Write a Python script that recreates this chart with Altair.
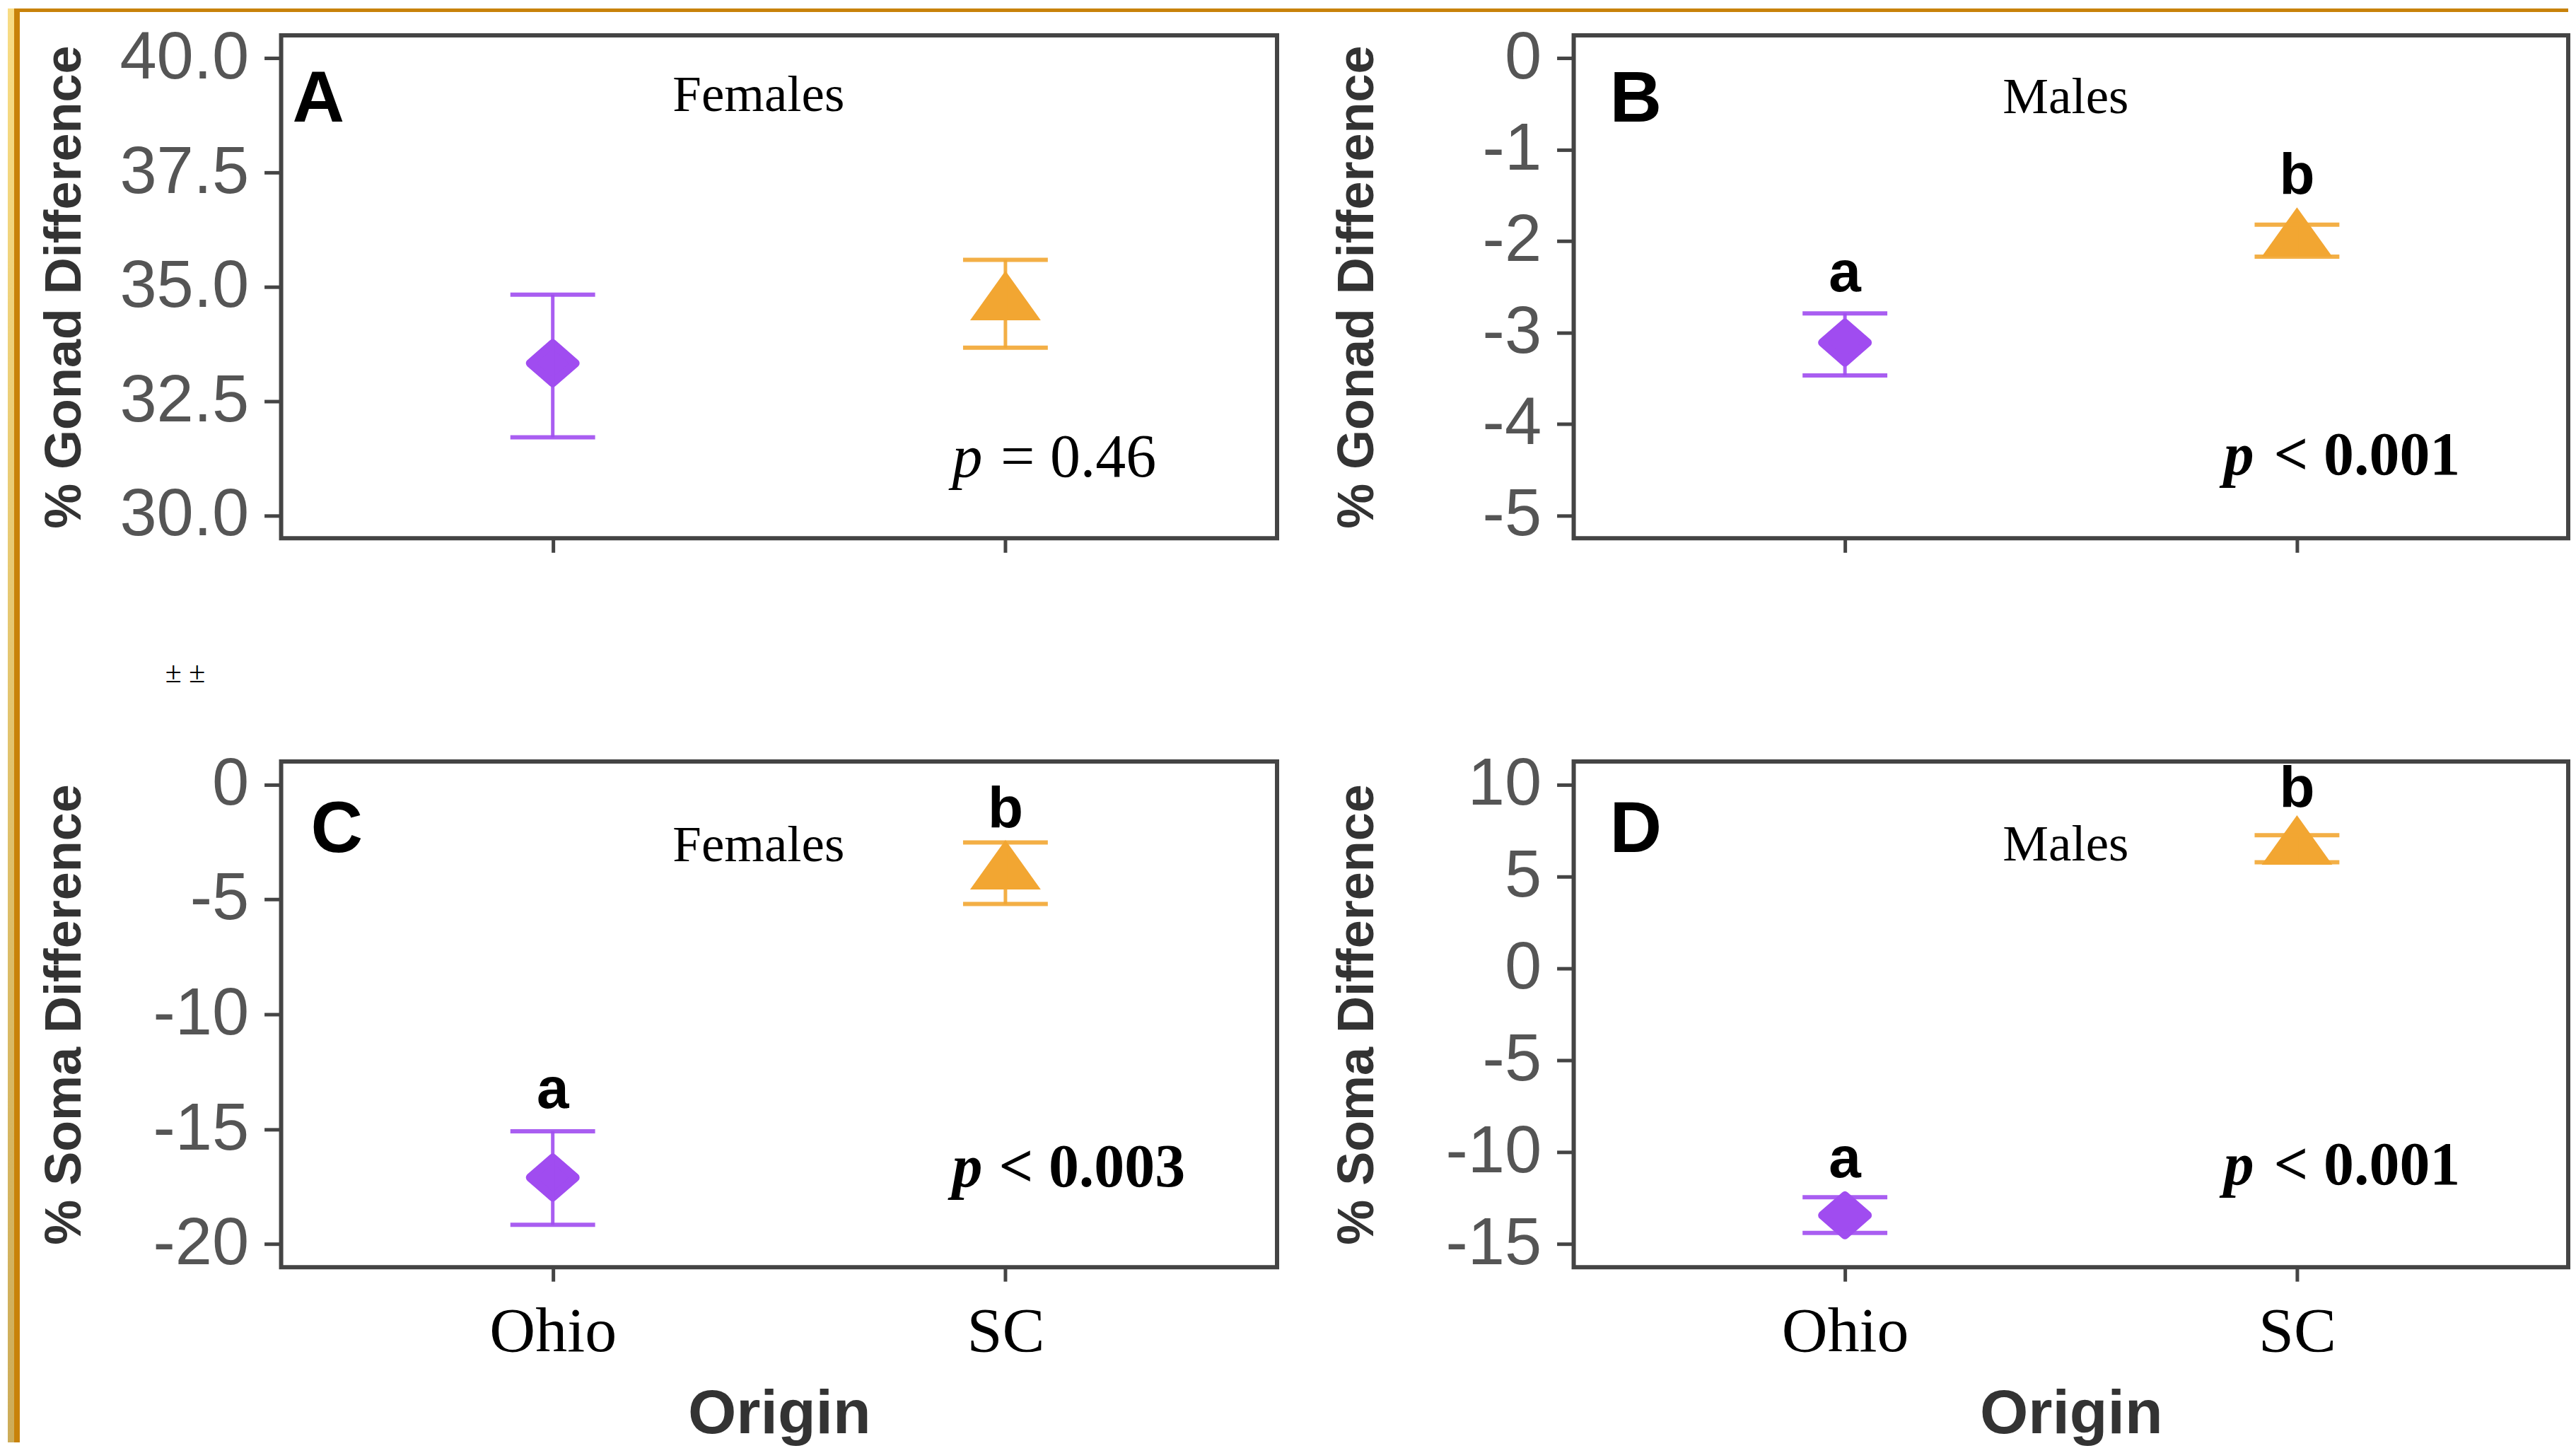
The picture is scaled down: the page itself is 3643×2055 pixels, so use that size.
import altair as alt
import pandas as pd

# ---------------- data ----------------
origins = ["Ohio", "SC"]
origin_pos = [1, 2]

# A: % gonad difference, females
gonad_f_mean = [33.33, 34.63]
gonad_f_lo = [31.71, 33.67]
gonad_f_hi = [34.83, 35.59]
# B: % gonad difference, males
gonad_m_mean = [-3.11, -1.99]
gonad_m_lo = [-3.47, -2.17]
gonad_m_hi = [-2.79, -1.82]
# C: % soma difference, females
soma_f_mean = [-17.10, -3.85]
soma_f_lo = [-19.16, -5.20]
soma_f_hi = [-15.09, -2.52]
# D: % soma difference, males
soma_m_mean = [-13.43, 6.53]
soma_m_lo = [-14.39, 5.77]
soma_m_hi = [-12.45, 7.24]

ticks_a = [30.0, 32.5, 35.0, 37.5, 40.0]
ticks_b = [0, -1, -2, -3, -4, -5]
ticks_c = [0, -5, -10, -15, -20]
ticks_d = [10, 5, 0, -5, -10, -15]
domain_a = [29.5, 40.5]
domain_b = [-5.25, 0.25]
domain_c = [-21.0, 1.0]
domain_d = [-16.25, 11.25]

panel_letters = ["A", "B", "C", "D"]
panel_letter_x = [0.425, 0.4796, 0.4655, 0.4796]
panel_letter_y = [38.615, -0.6924, -2.933, 6.334]

sex_labels = ["Females", "Males", "Females", "Males"]
sex_x = [1.4548, 1.4883, 1.4548, 1.4883]
sex_y = [38.847, -0.5997, -3.332, 5.873]

p_values = ["= 0.46", "< 0.001", "< 0.003", "< 0.001"]
p_bold = [False, True, True, True]
p_left_x = [1.8823, 1.838, 1.8823, 1.838]
p_right_x = [2.3332, 2.3611, 2.3972, 2.3611]
p_y = [30.844, -4.5548, -17.497, -11.756]

sig_letters = ["a", "b"]
sig_y_b = [-2.546, -1.480]
sig_y_c = [-14.086, -1.858]
sig_y_d = [-11.372, 8.792]

stray_text = ["± ±"]
stray_x = [0.144]
stray_y = [26.35]

PURPLE = "#a04cf0"
ORANGE = "#f2a632"
DIAMOND = "M-1,0L0,-0.87L1,0L0,0.87Z"
TRIANGLE = "M0,-0.933L1,0.467L-1,0.467Z"


def panel(idx, mean, lo, hi, ydom, yticks, ytitle, label_expr, bottom,
          sig_y=None, width=1410, height=712, extra=None):
    df = pd.DataFrame({"origin": origins, "x": origin_pos,
                       "mean": mean, "lo": lo, "hi": hi})
    xscale = alt.Scale(domain=[0.4, 2.6], nice=False, zero=False)
    yscale = alt.Scale(domain=ydom, nice=False, zero=False)
    if bottom:
        xaxis = alt.Axis(values=[1, 2], labelExpr="datum.value == 1 ? 'Ohio' : 'SC'",
                         labelFont="Liberation Serif", labelFontSize=90, labelColor="black",
                         labelLimit=1000,
                         tickSize=20, tickWidth=5, tickColor="#444444", labelPadding=27,
                         domain=False, grid=False, title="Origin",
                         titleFont="Liberation Sans", titleFontWeight="bold",
                         titleFontSize=88, titleColor="#333333", titlePadding=25,
                         titleLimit=2000,
                         minExtent=140, maxExtent=140, labelFlush=False)
    else:
        xaxis = alt.Axis(values=[1, 2], labels=False, tickSize=20, tickWidth=5,
                         tickColor="#444444", domain=False, grid=False, title="")
    yaxis = alt.Axis(values=yticks, labelExpr=label_expr,
                     labelFont="Liberation Sans", labelFontSize=94, labelColor="#555555",
                     labelLimit=1000,
                     tickSize=24, tickWidth=5, tickColor="#444444", labelPadding=22,
                     domain=False, grid=False, title=ytitle,
                     titleFont="Liberation Sans", titleFontWeight="bold",
                     titleFontSize=72, titleColor="#333333", titlePadding=29,
                     titleLimit=2000,
                     minExtent=240, maxExtent=240, labelOverlap=False, labelFlush=False)

    def X():
        return alt.X("x:Q", scale=xscale, axis=xaxis)

    def Y(f):
        return alt.Y(f"{f}:Q", scale=yscale, axis=yaxis)

    base = alt.Chart(df)
    points = base.mark_point(filled=True, opacity=1, strokeJoin="round").encode(
        x=X(), y=Y("mean"),
        shape=alt.Shape("origin:N", scale=alt.Scale(domain=origins, range=[DIAMOND, TRIANGLE]), legend=None),
        color=alt.Color("origin:N", scale=alt.Scale(domain=origins, range=[PURPLE, ORANGE]), legend=None),
        stroke=alt.Stroke("origin:N", scale=alt.Scale(domain=origins, range=[PURPLE, ORANGE]), legend=None),
        size=alt.Size("origin:O", scale=alt.Scale(domain=origins, range=[4096, 10000]), legend=None),
        strokeWidth=alt.StrokeWidth("origin:O", scale=alt.Scale(domain=origins, range=[12, 0]), legend=None),
    )
    ecol = alt.Color("origin:N", scale=alt.Scale(domain=origins, range=[PURPLE, ORANGE]), legend=None)
    rules = base.mark_rule(strokeWidth=5, opacity=0.9).encode(
        x=X(), y=Y("lo"), y2=alt.Y2("hi"), color=ecol)
    cap_hi = base.mark_tick(orient="horizontal", size=120, thickness=6, opacity=0.9).encode(
        x=X(), y=Y("hi"), color=ecol)
    cap_lo = base.mark_tick(orient="horizontal", size=120, thickness=6, opacity=0.9).encode(
        x=X(), y=Y("lo"), color=ecol)

    letter_df = pd.DataFrame({"x": [panel_letter_x[idx]], "y": [panel_letter_y[idx]],
                              "t": [panel_letters[idx]]})
    letter = alt.Chart(letter_df).mark_text(
        align="left", baseline="alphabetic", font="Liberation Sans", fontWeight="bold",
        fontSize=102, color="black").encode(x=X(), y=Y("y"), text="t:N")

    sex_df = pd.DataFrame({"x": [sex_x[idx]], "y": [sex_y[idx]], "t": [sex_labels[idx]]})
    sex = alt.Chart(sex_df).mark_text(
        align="center", baseline="alphabetic", font="Liberation Serif",
        fontSize=73, color="black").encode(x=X(), y=Y("y"), text="t:N")

    weight = "bold" if p_bold[idx] else "normal"
    pp_df = pd.DataFrame({"x": [p_left_x[idx]], "y": [p_y[idx]], "t": ["p"]})
    p_italic = alt.Chart(pp_df).mark_text(
        align="left", baseline="alphabetic", font="Liberation Serif", fontStyle="italic",
        fontWeight=weight, fontSize=86, color="black").encode(x=X(), y=Y("y"), text="t:N")
    pv_df = pd.DataFrame({"x": [p_right_x[idx]], "y": [p_y[idx]], "t": [p_values[idx]]})
    p_val = alt.Chart(pv_df).mark_text(
        align="right", baseline="alphabetic", font="Liberation Serif",
        fontWeight=weight, fontSize=86, color="black").encode(x=X(), y=Y("y"), text="t:N")

    layers = [points, rules, cap_hi, cap_lo, letter, sex, p_italic, p_val]

    if sig_y is not None:
        sig_df = pd.DataFrame({"x": origin_pos, "y": sig_y, "t": sig_letters})
        layers.append(alt.Chart(sig_df).mark_text(
            align="center", baseline="alphabetic", font="Liberation Sans", fontWeight="bold",
            fontSize=82, color="black").encode(x=X(), y=Y("y"), text="t:N"))

    if extra == "stray":
        st_df = pd.DataFrame({"x": stray_x, "y": stray_y, "t": stray_text})
        layers.append(alt.Chart(st_df).mark_text(
            align="left", baseline="alphabetic", font="Liberation Serif",
            fontSize=42, color="black").encode(x=X(), y=Y("y"), text="t:N"))
        one = pd.DataFrame({"k": [0]})
        gold = alt.Chart(one).mark_rect(
            color=alt.Gradient(gradient="linear",
                               stops=[alt.GradientStop(color="#f8dc84", offset=0),
                                      alt.GradientStop(color="#cdac58", offset=1)],
                               x1=0, x2=0, y1=0, y2=1)).encode(
            x=alt.value(-387), x2=alt.value(-378), y=alt.value(-38), y2=alt.value(1992))
        stripe = alt.Chart(one).mark_rect(color="#c8820a").encode(
            x=alt.value(-378), x2=alt.value(-370), y=alt.value(-38), y2=alt.value(1992))
        topline = alt.Chart(one).mark_rect(color="#c8820a").encode(
            x=alt.value(-378), x2=alt.value(3238), y=alt.value(-38), y2=alt.value(-33))
        layers = [gold, stripe, topline] + layers

    return alt.layer(*layers).properties(width=width, height=height)


fmt1 = "format(datum.value, '.1f')"
fmt0 = "'' + datum.value"

pA = panel(0, gonad_f_mean, gonad_f_lo, gonad_f_hi, domain_a, ticks_a,
           "% Gonad Difference", fmt1, False, extra="stray", width=1410, height=712)
pB = panel(1, gonad_m_mean, gonad_m_lo, gonad_m_hi, domain_b, ticks_b,
           "% Gonad Difference", fmt0, False, sig_y=sig_y_b, width=1408, height=712)
pC = panel(2, soma_f_mean, soma_f_lo, soma_f_hi, domain_c, ticks_c,
           "% Soma Difference", fmt0, True, sig_y=sig_y_c, width=1410, height=716)
pD = panel(3, soma_m_mean, soma_m_lo, soma_m_hi, domain_d, ticks_d,
           "% Soma Difference", fmt0, True, sig_y=sig_y_d, width=1408, height=716)

chart = alt.concat(pA, pB, pC, pD, columns=2,
                   spacing={"row": 316, "column": 420},
                   bounds="flush", padding=0,
                   background="white").configure_view(
    stroke="#444444", strokeWidth=6)

chart.save("out.html", embed_options={"renderer": "svg", "actions": False})
